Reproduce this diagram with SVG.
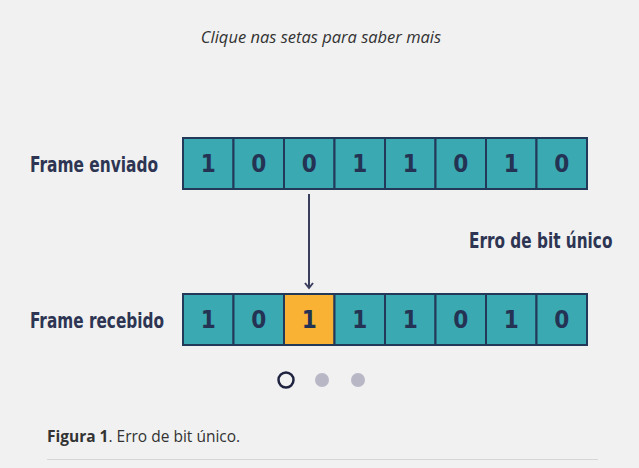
<svg xmlns="http://www.w3.org/2000/svg" width="639" height="468" viewBox="0 0 639 468">
<defs>
<style>
.cell{fill:#3ba9b1;stroke:#22395a;stroke-width:2}
.err{fill:#f9b233}
.bit{font-family:"DejaVu Sans Condensed","DejaVu Sans",sans-serif;font-weight:bold;font-size:24px;fill:#243353;text-anchor:middle}
.lbl{font-family:"DejaVu Sans Condensed","DejaVu Sans",sans-serif;font-weight:bold;font-size:21px;fill:#2d3553}
.conn{stroke:#3b3f5e;stroke-width:2;fill:none}
</style>
<marker id="ah" viewBox="0 0 10 10" refX="8" refY="5" markerWidth="10" markerHeight="10" markerUnits="userSpaceOnUse" orient="auto">
<path d="M3,1 L8,5 L3,9" fill="none" stroke="#3b3f5e" stroke-width="2"/>
</marker>
</defs>
<rect width="639" height="468" fill="#f1f1f1"/>
<text x="321" y="43" font-family="'Open Sans',sans-serif" font-style="italic" font-size="16.5" fill="#333333" text-anchor="middle">Clique nas setas para saber mais</text>

<g id="frame-enviado">
<text class="lbl" x="30" y="172" textLength="128" lengthAdjust="spacingAndGlyphs">Frame enviado</text>
<rect class="cell" x="183" y="138" width="50.5" height="51"/>
<rect class="cell" x="233.5" y="138" width="50.5" height="51"/>
<rect class="cell" x="284" y="138" width="50.5" height="51"/>
<rect class="cell" x="334.5" y="138" width="50.5" height="51"/>
<rect class="cell" x="385" y="138" width="50.5" height="51"/>
<rect class="cell" x="435.5" y="138" width="50.5" height="51"/>
<rect class="cell" x="486" y="138" width="50.5" height="51"/>
<rect class="cell" x="536.5" y="138" width="50.5" height="51"/>
<text class="bit" x="208.2" y="172">1</text>
<text class="bit" x="258.7" y="172">0</text>
<text class="bit" x="309.2" y="172">0</text>
<text class="bit" x="359.7" y="172">1</text>
<text class="bit" x="410.2" y="172">1</text>
<text class="bit" x="460.7" y="172">0</text>
<text class="bit" x="511.2" y="172">1</text>
<text class="bit" x="561.7" y="172">0</text>
</g>

<g id="frame-recebido">
<text class="lbl" x="30" y="328" textLength="134" lengthAdjust="spacingAndGlyphs">Frame recebido</text>
<rect class="cell" x="183" y="294" width="50.5" height="51"/>
<rect class="cell" x="233.5" y="294" width="50.5" height="51"/>
<rect class="cell err" x="284" y="294" width="50.5" height="51"/>
<rect class="cell" x="334.5" y="294" width="50.5" height="51"/>
<rect class="cell" x="385" y="294" width="50.5" height="51"/>
<rect class="cell" x="435.5" y="294" width="50.5" height="51"/>
<rect class="cell" x="486" y="294" width="50.5" height="51"/>
<rect class="cell" x="536.5" y="294" width="50.5" height="51"/>
<text class="bit" x="208.2" y="328">1</text>
<text class="bit" x="258.7" y="328">0</text>
<text class="bit" x="309.2" y="328">1</text>
<text class="bit" x="359.7" y="328">1</text>
<text class="bit" x="410.2" y="328">1</text>
<text class="bit" x="460.7" y="328">0</text>
<text class="bit" x="511.2" y="328">1</text>
<text class="bit" x="561.7" y="328">0</text>
</g>

<g id="erro-label">
<text class="lbl" transform="translate(469,248) scale(0.81,1)" x="0" y="0">Erro de bit único</text>
</g>

<g id="connectors">
<line class="conn" x1="309" y1="194" x2="309" y2="288" marker-end="url(#ah)"/>
</g>

<g id="pager">
<circle cx="286" cy="380" r="7.5" fill="none" stroke="#1f2340" stroke-width="2.5"/>
<circle cx="322" cy="380" r="7" fill="#b8b7c5"/>
<circle cx="358" cy="380" r="7" fill="#b8b7c5"/>
</g>

<g id="caption">
<text x="47" y="442" font-family="'Open Sans',sans-serif" font-size="15.5" fill="#333333"><tspan font-weight="bold">Figura 1</tspan>. Erro de bit único.</text>
<line x1="47" y1="459.5" x2="598" y2="459.5" stroke="#d6d6d6" stroke-width="1"/>
</g>
</svg>
